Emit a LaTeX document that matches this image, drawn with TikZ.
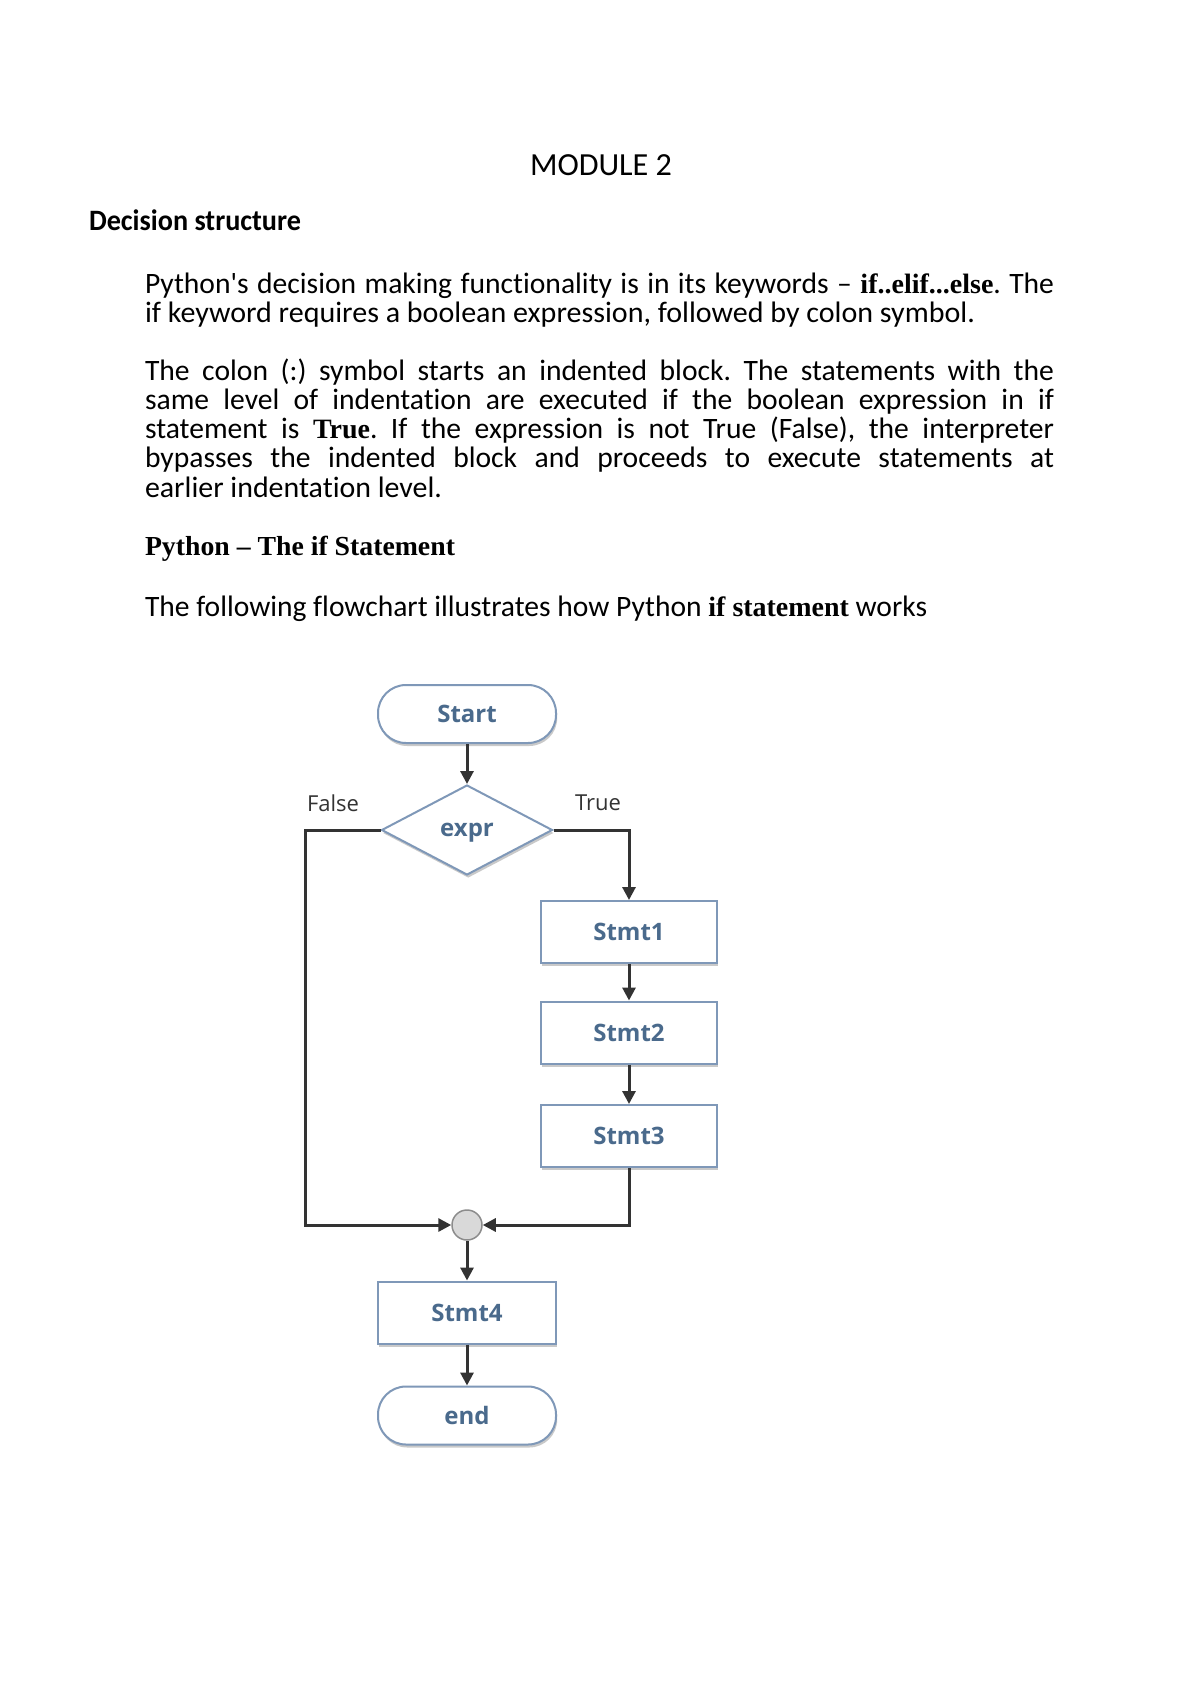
\documentclass[tikz,border=0pt]{standalone}
\usepackage{fontspec}
\usepackage{graphicx}
\usetikzlibrary{arrows.meta,shapes.geometric,shadows}
\newfontfamily\bodyf{Carlito}[Ligatures={TeXOff,NoCommon}]
\newfontfamily\serf{Liberation Serif}[Ligatures={TeXOff,NoCommon}]
\newfontfamily\fcf{Open Sans}
\newcommand\bodyfont{\bodyf\fontsize{29.6}{30}\selectfont\frenchspacing}
\newcommand\sbf[1]{{\serf\bfseries\fontsize{28}{28}\selectfont #1}}
\newcommand\wfit[2]{\resizebox{#1}{\height}{#2}}
\definecolor{fctext}{HTML}{4A6A8C}
\definecolor{fcborder}{HTML}{7F98B8}
\definecolor{fcline}{HTML}{333333}
\begin{document}
\begin{tikzpicture}[x=1pt,y=-1pt,
  txt/.style={anchor=base west, inner sep=0pt, outer sep=0pt, font=\bodyfont},
  shad/.style={drop shadow={shadow xshift=1.2pt, shadow yshift=-3pt, fill=black!60, opacity=0.35}},
  term/.style={rectangle, rounded corners=28pt, draw=fcborder, line width=2pt, fill=white,
    minimum width=178pt, minimum height=58pt, inner sep=0pt,
    font=\fcf\bfseries\fontsize{24}{24}\selectfont, text=fctext, shad},
  proc/.style={rectangle, draw=fcborder, line width=2pt, fill=white,
    minimum width=176pt, minimum height=62pt, inner sep=0pt,
    font=\fcf\bfseries\fontsize{24}{24}\selectfont, text=fctext, shad},
  dec/.style={diamond, aspect=1.9, draw=fcborder, line width=2pt, fill=white,
    minimum width=171pt, minimum height=90pt, inner sep=0pt, text height=12pt, text depth=0pt,
    font=\fcf\bfseries\fontsize{24}{24}\selectfont, text=fctext, shad},
  junc/.style={circle, fill=black!15, draw=black!45, line width=1.5pt, minimum size=30pt, inner sep=0pt},
  lbl/.style={inner sep=0pt, font=\fcf\fontsize{22}{22}\selectfont, text=black!80},
  flow/.style={draw=fcline, line width=3pt, -{Triangle[length=13pt,width=13pt]}}
]
\useasboundingbox[fill=white] (0,0) rectangle (1200,1696);

% ---- text ----
\node[anchor=base, inner sep=0pt, font=\bodyf\fontsize{32.2}{33}\selectfont] (title) at (601,176) {\wfit{142pt}{MODULE 2}};
\node[txt, font=\bodyf\bfseries\fontsize{29.6}{30}\selectfont] (sec) at (89,231) {\wfit{212pt}{Decision structure}};

\node[txt] (p1a) at (145,293.6) {\makebox[909pt][s]{Python's decision making functionality is in its keywords – \sbf{if..elif...else}. The}};
\node[txt] (p1b) at (145,322.9) {\wfit{830pt}{if keyword requires a boolean expression, followed by colon symbol.}};

\node[txt] (p2a) at (145,380) {\makebox[909pt][s]{The colon (:) symbol starts an indented block. The statements with the}};
\node[txt] (p2b) at (145,409.3) {\makebox[909pt][s]{same level of indentation are executed if the boolean expression in if}};
\node[txt] (p2c) at (145,438.6) {\makebox[909pt][s]{statement is \sbf{True}. If the expression is not True (False), the interpreter}};
\node[txt] (p2d) at (145,467.9) {\makebox[909pt][s]{bypasses the indented block and proceeds to execute statements at}};
\node[txt] (p2e) at (145,497.2) {\wfit{297pt}{earlier indentation level.}};

\node[txt] (h3) at (145,555.8) {\wfit{310pt}{\serf\bfseries\fontsize{27.5}{28}\selectfont Python – The if Statement}};
\node[txt] (p3) at (145,616) {\wfit{782pt}{The following flowchart illustrates how Python \sbf{if statement} works}};

% ---- flowchart ----
\node[term] (start) at (467,714) {Start};
\node[dec] (expr) at (467,830) {expr};
\node[lbl] (lf) at (333,803) {False};
\node[lbl] (lt) at (598,803) {True};
\node[proc] (s1) at (629,932) {Stmt1};
\node[proc] (s2) at (629,1032.5) {Stmt2};
\node[proc] (s3) at (629,1136) {Stmt3};
\node[junc] (j) at (467,1225) {};
\node[proc, minimum width=178pt] (s4) at (467,1312.5) {Stmt4};
\node[term] (fin) at (467,1415.5) {end};

\coordinate (fl) at (305,830);
\coordinate (fb) at (305,1225);

\draw[flow] (start) -- (expr);
\draw[flow] (expr.east) -| (s1.north);
\draw[flow] (s1) -- (s2);
\draw[flow] (s2) -- (s3);
\draw[flow] (s3.south) |- (j.east);
\draw[flow] (expr.west) -- (fl) -- (fb) -- (j.west);
\draw[flow] (j) -- (s4);
\draw[flow] (s4) -- (fin);
\end{tikzpicture}
\end{document}
